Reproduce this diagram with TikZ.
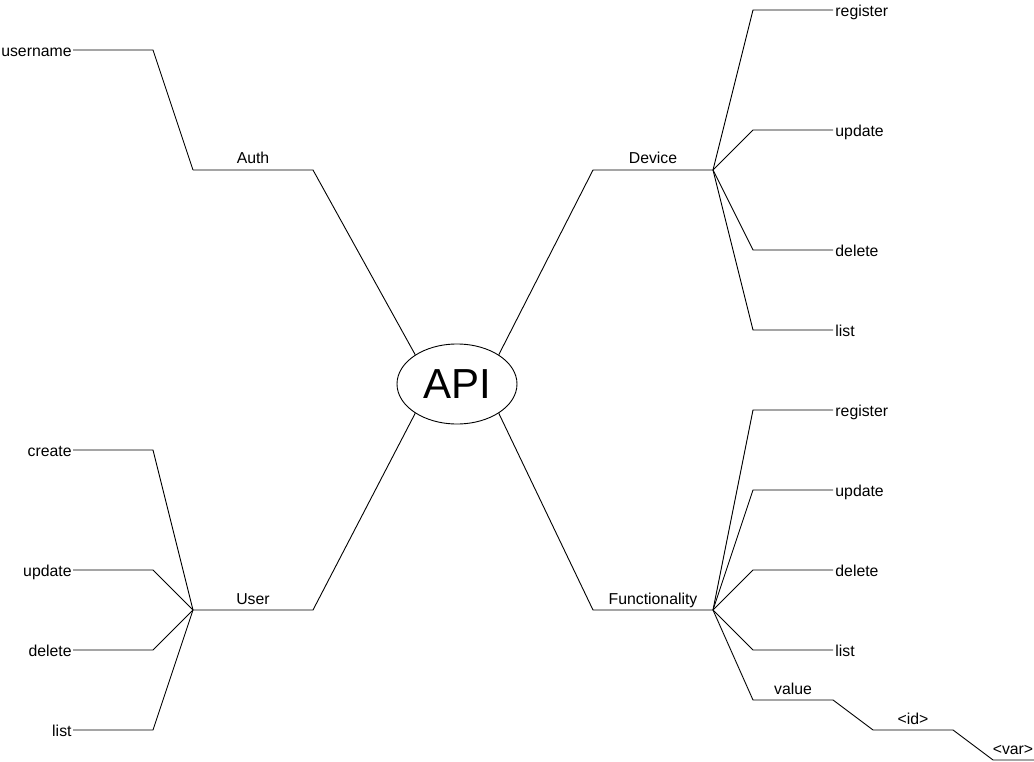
\documentclass[tikz,border=0pt]{standalone}
\usepackage{fontspec}
\setmainfont{Liberation Sans}
\usetikzlibrary{shapes.geometric}
\begin{document}
\begin{tikzpicture}[x=1pt,y=-1pt,line width=0.9pt,
  every node/.style={font=\fontsize{15.8}{18}\selectfont},
  leafR/.style={anchor=west,inner sep=2pt,text height=12.5pt,text depth=0pt},
  leafL/.style={anchor=east,inner sep=1pt,text height=12.5pt,text depth=0pt},
  lbl/.style={anchor=base,inner sep=0pt},
  conn/.style={draw=black,line width=0.9pt}]
\useasboundingbox (0,0) rectangle (1034,762);

% central node
\node[ellipse,draw,minimum width=120pt,minimum height=80pt,inner sep=0pt,
      font=\fontsize{42}{48}\selectfont] (api) at (457,384) {API};

% branch junctions
\coordinate (authL) at (193,170); \coordinate (authR) at (313,170);
\coordinate (devL)  at (593,170); \coordinate (devR)  at (713,170);
\coordinate (userL) at (193,610); \coordinate (userR) at (313,610);
\coordinate (funL)  at (593,610); \coordinate (funR)  at (713,610);

% branch labels
\node[lbl] (auth) at (253,164) {Auth};
\node[lbl] (device) at (653,164) {Device};
\node[lbl] (user) at (253,604) {User};
\node[lbl] (func) at (653,604) {Functionality};

% main branches
\draw[conn] (api.145) -- (authR) -- (authL);
\draw[conn] (api.35)  -- (devL) -- (devR);
\draw[conn] (api.215) -- (userR) -- (userL);
\draw[conn] (api.325) -- (funL) -- (funR);

% Auth leaves
\node[leafL] (username) at (73,50) {username};
\draw[conn] (authL) -- ([xshift=80pt]username.east) -- (username.east);

% Device leaves
\node[leafR] (dreg) at (833,10) {register};
\node[leafR] (dupd) at (833,130) {update};
\node[leafR] (ddel) at (833,250) {delete};
\node[leafR] (dlist) at (833,330) {list};
\foreach \n in {dreg,dupd,ddel,dlist}
  \draw[conn] (devR) -- ([xshift=-80pt]\n.west) -- (\n.west);

% User leaves
\node[leafL] (ucreate) at (73,450) {create};
\node[leafL] (uupd) at (73,570) {update};
\node[leafL] (udel) at (73,650) {delete};
\node[leafL] (ulist) at (73,730) {list};
\foreach \n in {ucreate,uupd,udel,ulist}
  \draw[conn] (userL) -- ([xshift=80pt]\n.east) -- (\n.east);

% Functionality leaves
\node[leafR] (freg) at (833,410) {register};
\node[leafR] (fupd) at (833,490) {update};
\node[leafR] (fdel) at (833,570) {delete};
\node[leafR] (flist) at (833,650) {list};
\foreach \n in {freg,fupd,fdel,flist}
  \draw[conn] (funR) -- ([xshift=-80pt]\n.west) -- (\n.west);

% value chain
\coordinate (valL) at (753,700); \coordinate (valR) at (833,700);
\coordinate (idL) at (873,730);  \coordinate (idR) at (953,730);
\coordinate (varL) at (993,760); \coordinate (varR) at (1034,760);
\node[lbl] (value) at (793,694) {value};
\node[lbl] (id) at (913,724) {<id>};
\node[lbl] (var) at (1013,754) {<var>};
\draw[conn] (funR) -- (valL) -- (valR) -- (idL) -- (idR) -- (varL) -- (varR);
\end{tikzpicture}
\end{document}
